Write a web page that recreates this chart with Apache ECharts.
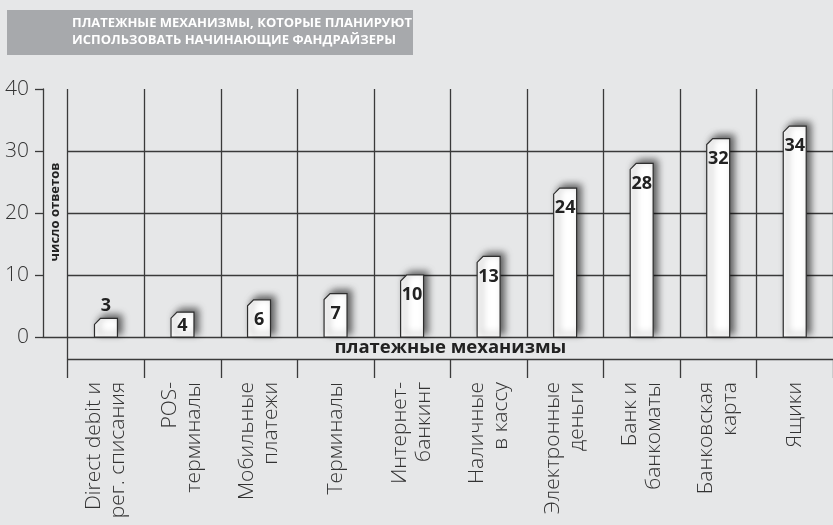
<!DOCTYPE html>
<html>
<head>
<meta charset="utf-8">
<script src="https://cdn.jsdelivr.net/npm/echarts@6/dist/echarts.min.js"></script>
<style>
html,body{margin:0;padding:0;background:#e6e7e8;}
#chart{width:833px;height:525px;}
</style>
</head>
<body>
<div id="chart"></div>
<script>
const titleText = 'ПЛАТЕЖНЫЕ МЕХАНИЗМЫ, КОТОРЫЕ ПЛАНИРУЮТ\nИСПОЛЬЗОВАТЬ НАЧИНАЮЩИЕ ФАНДРАЙЗЕРЫ';
const categories = ['Direct debit и\nрег. списания', 'POS-\nтерминалы', 'Мобильные\nплатежи', 'Терминалы', 'Интернет-\nбанкинг', 'Наличные\nв кассу', 'Электронные\nденьги', 'Банк и\nбанкоматы', 'Банковская\nкарта', 'Ящики'];
const values = [3, 4, 6, 7, 10, 13, 24, 28, 32, 34];
const yName = 'число ответов';
const xName = 'платежные механизмы';

const lineColor = '#3a3a3a';
const labelFont = '"Open Sans", "Noto Sans", sans-serif';

const chart = echarts.init(document.getElementById('chart'), null, {renderer: 'canvas'});

function renderBar(params, api) {
  const v = api.value(1);
  const top = api.coord([api.value(0), v]);
  const base = api.coord([api.value(0), 0]);
  const w = api.size([1, 0])[0] * 0.3;
  const c = 6;
  const x0 = top[0] - w / 2, x1 = top[0] + w / 2, yt = top[1], yb = base[1];
  const h = yb - yt;
  let ly;
  if (h < 22) ly = yt - 13;
  else ly = Math.min(yt + 20, (yt + yb) / 2 + 1);
  return {
    type: 'group',
    children: [
      {
        type: 'polygon',
        shape: {points: [[x0, yb], [x0, yt + c], [x0 + c, yt], [x1, yt], [x1, yb]]},
        style: {
          fill: '#ffffff', stroke: '#2e2e2e', lineWidth: 1.2,
          shadowBlur: 7, shadowColor: 'rgba(0,0,0,0.6)', shadowOffsetX: 4, shadowOffsetY: -3
        }
      },
      {
        type: 'text',
        z2: 10,
        style: {
          text: String(v), x: top[0], y: ly, align: 'center', verticalAlign: 'middle',
          font: 'bold 18px "Open Sans", "Noto Sans", sans-serif', fill: '#222'
        }
      }
    ]
  };
}

const option = {
  backgroundColor: '#e6e7e8',
  animation: false,
  graphic: [
    {type: 'rect', left: 7, top: 10, shape: {width: 406, height: 45}, style: {fill: '#a7a9ac'}, z: -1},
    {
      type: 'text', x: 55.5, y: 212, rotation: Math.PI / 2, z: 10,
      style: {text: yName, align: 'center', verticalAlign: 'middle', fill: '#222',
        font: 'bold 13px "Open Sans", "Noto Sans", sans-serif'}
    }
  ],
  title: {
    text: titleText,
    left: 72, top: 15,
    padding: 0,
    textStyle: {color: '#ffffff', fontSize: 13, fontWeight: 'bold', lineHeight: 17, fontFamily: '"Open Sans", "Noto Sans", sans-serif'}
  },
  grid: [
    {left: 43, right: -7, top: 89, bottom: 188},
    {left: 67.7, right: -6.7, top: 89, bottom: 188},
    {left: 67.7, right: -6.7, top: 337, bottom: 166}
  ],
  xAxis: [
    {
      gridIndex: 0, type: 'value', min: 0, max: 1,
      axisLine: {show: true, onZero: false, lineStyle: {color: lineColor, width: 1.3}},
      axisTick: {show: false}, axisLabel: {show: false}, splitLine: {show: false}
    },
    {
      gridIndex: 1, type: 'category', data: categories,
      axisLine: {show: false}, axisTick: {show: false, interval: 0}, axisLabel: {show: false, interval: 0},
      splitLine: {show: true, interval: 0, lineStyle: {color: lineColor, width: 1.3}}
    },
    {
      gridIndex: 2, type: 'category', data: categories, position: 'bottom',
      axisLine: {show: true, lineStyle: {color: lineColor, width: 1.3}},
      axisTick: {show: true, interval: 0, length: 19, lineStyle: {color: lineColor, width: 1.3}},
      axisLabel: {show: true, rotate: 90, margin: 23, fontSize: 21, lineHeight: 24, color: '#333', fontFamily: labelFont, fontWeight: 300, interval: 0},
      name: xName, nameLocation: 'middle', nameGap: -11, nameMoveOverlap: false,
      nameTextStyle: {fontSize: 18.5, fontWeight: 'bold', color: '#222', verticalAlign: 'middle', fontFamily: '"Open Sans", "Noto Sans", sans-serif'}
    }
  ],
  yAxis: [
    {
      gridIndex: 0, type: 'value', min: 0, max: 40, interval: 10,
      axisLine: {show: true, lineStyle: {color: lineColor, width: 1.3}},
      axisTick: {show: true, length: 8, lineStyle: {color: lineColor, width: 1.3}},
      axisLabel: {margin: 14, fontSize: 21, color: '#333', fontFamily: labelFont, fontWeight: 300},
      splitLine: {show: false}
    },
    {
      gridIndex: 1, type: 'value', min: 0, max: 40, interval: 10,
      axisLine: {show: false}, axisTick: {show: false}, axisLabel: {show: false},
      splitLine: {show: true, showMinLine: false, showMaxLine: false, lineStyle: {color: lineColor, width: 1.3}}
    },
    {
      gridIndex: 2, type: 'value', min: 0, max: 1,
      axisLine: {show: true, lineStyle: {color: lineColor, width: 1.3}},
      axisTick: {show: false}, axisLabel: {show: false}, splitLine: {show: false}
    }
  ],
  series: [
    {
      type: 'custom',
      xAxisIndex: 1, yAxisIndex: 1,
      renderItem: renderBar,
      encode: {x: 0, y: 1},
      data: values.map((v, i) => [i, v]),
      z: 5
    }
  ]
};
chart.setOption(option);
</script>
</body>
</html>
